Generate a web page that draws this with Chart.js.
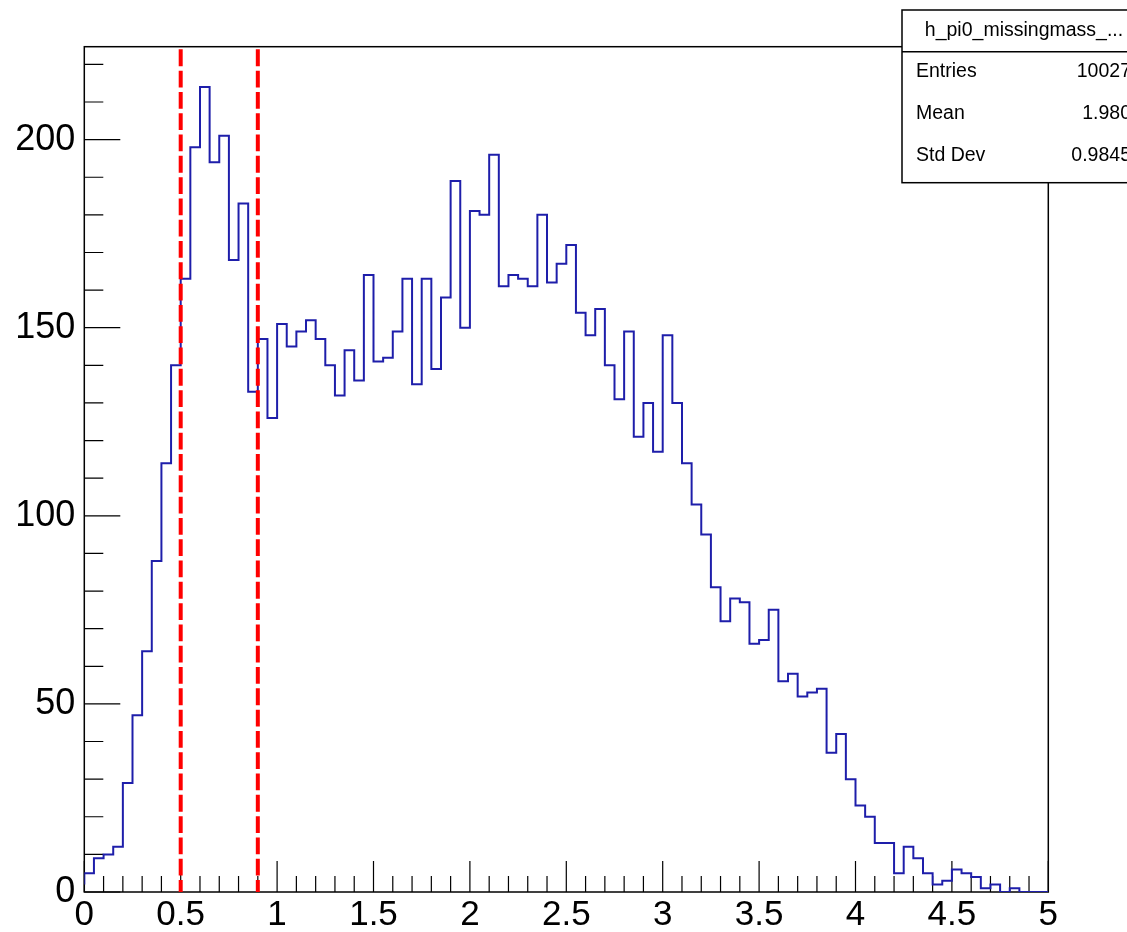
<!DOCTYPE html>
<html>
<head>
<meta charset="utf-8">
<script src="https://cdn.jsdelivr.net/npm/chart.js@4/dist/chart.umd.min.js"></script>
<style>
html,body{margin:0;padding:0;background:#fff;overflow:hidden}
#wrap{width:1127px;height:932px;position:relative}
canvas{display:block}
</style>
</head>
<body>
<div id="wrap"><canvas id="c" width="1127" height="932"></canvas></div>
<script>
// ---------------- data ----------------
const binLow = 0;
const binHigh = 5;
const binCounts = [
  2, 5, 9, 10, 12, 29, 47, 64, 88, 114,
  140, 163, 198, 214, 194, 201, 168, 183, 133, 147,
  126, 151, 145, 149, 152, 147, 140, 132, 144, 136,
  164, 141, 142, 149, 163, 135, 163, 139, 158, 189,
  150, 181, 180, 196, 161, 164, 163, 161, 180, 162,
  167, 172, 154, 148, 155, 140, 131, 149, 121, 130,
  117, 148, 130, 114, 103, 95, 81, 72, 78, 77,
  66, 67, 75, 56, 58, 52, 53, 54, 37, 42,
  30, 23, 20, 13, 13, 5, 12, 9, 5, 2,
  3, 6, 5, 4, 1, 2, 0, 1, 0, 0
];
const cutValues = [0.5, 0.9];
const cutLineTop = 224;
const xTickLabels = [0, 0.5, 1, 1.5, 2, 2.5, 3, 3.5, 4, 4.5, 5];
const yTickLabels = [0, 50, 100, 150, 200];
const yAxisMax = 224.7;
const xMinorStep = 0.1, xMajorStep = 0.5;
const yMinorStep = 10, yMajorStep = 50;
const statsTitle = "h_pi0_missingmass_...";
const statsNames = ["Entries", "Mean", "Std Dev"];
const statsValues = ["10027", "1.980", "0.9845"];

// ---------------- build datasets ----------------
const binWidth = (binHigh - binLow) / binCounts.length;
const histPoints = binCounts.map((v, i) => ({ x: binLow + i * binWidth, y: v }));
histPoints.push({ x: binHigh, y: binCounts[binCounts.length - 1] });
histPoints.push({ x: binHigh, y: 0 });

const datasets = [{
  data: histPoints,
  showLine: true,
  stepped: 'after',
  borderColor: '#1e1eaa',
  borderWidth: 2,
  pointRadius: 0,
  fill: false,
  order: 2
}];
cutValues.forEach(c => {
  datasets.push({
    data: [{ x: c, y: cutLineTop }, { x: c, y: 0 }],
    showLine: true,
    borderColor: '#ff0000',
    borderWidth: 4,
    borderDash: [16.8, 4.5],
    pointRadius: 0,
    fill: false,
    order: 1
  });
});

const FONT = "'Liberation Sans', Arial, Helvetica, sans-serif";

// frame and inward ticks (drawn beneath datasets)
const framePlugin = {
  id: 'frame',
  beforeDatasetsDraw(chart) {
    const { ctx, chartArea: a, scales } = chart;
    const xs = scales.x, ys = scales.y;
    ctx.save();
    ctx.strokeStyle = '#000';
    ctx.lineWidth = 1.2;
    ctx.beginPath();
    const nx = Math.round((binHigh - binLow) / xMinorStep);
    for (let k = 0; k <= nx; k++) {
      const v = binLow + k * xMinorStep;
      const r = v / xMajorStep;
      const major = Math.abs(r - Math.round(r)) < 1e-6;
      const px = xs.getPixelForValue(v);
      ctx.moveTo(px, a.bottom);
      ctx.lineTo(px, a.bottom - (major ? 31 : 16));
    }
    for (let v = 0; v <= yAxisMax; v += yMinorStep) {
      const major = v % yMajorStep === 0;
      const py = ys.getPixelForValue(v);
      ctx.moveTo(a.left, py);
      ctx.lineTo(a.left + (major ? 36 : 19), py);
    }
    ctx.stroke();
    ctx.lineWidth = 1.5;
    ctx.strokeRect(a.left, a.top, a.right - a.left, a.bottom - a.top);
    ctx.restore();
  },
  afterDraw(chart) {
    const ctx = chart.ctx;
    ctx.save();
    // stats box
    const bx = 902, by = 10, bw = 244, bh = 172.7, sep = 51.7;
    ctx.fillStyle = '#fff';
    ctx.fillRect(bx, by, bw, bh);
    ctx.strokeStyle = '#000';
    ctx.lineWidth = 1.5;
    ctx.strokeRect(bx, by, bw, bh);
    ctx.beginPath();
    ctx.moveTo(bx, sep);
    ctx.lineTo(bx + bw, sep);
    ctx.stroke();
    ctx.fillStyle = '#000';
    ctx.font = '19.5px ' + FONT;
    ctx.textBaseline = 'middle';
    ctx.textAlign = 'center';
    ctx.fillText(statsTitle, 1024, 31);
    const rowY = [72, 114, 156];
    statsNames.forEach((n, i) => {
      ctx.textAlign = 'left';
      ctx.fillText(n, 916, rowY[i]);
      ctx.textAlign = 'right';
      ctx.fillText(statsValues[i], 1131, rowY[i]);
    });
    ctx.restore();
  }
};

new Chart(document.getElementById('c'), {
  type: 'scatter',
  data: { datasets },
  options: {
    responsive: false,
    animation: false,
    devicePixelRatio: 1,
    layout: { padding: { left: 0, top: 46.7, right: 78.7, bottom: 0 } },
    plugins: { legend: { display: false }, tooltip: { enabled: false }, title: { display: false } },
    scales: {
      x: {
        type: 'linear',
        min: binLow,
        max: binHigh,
        afterBuildTicks: s => { s.ticks = xTickLabels.map(v => ({ value: v })); },
        afterFit: s => { s.height = 40; },
        grid: { display: false, drawTicks: false },
        border: { display: false },
        ticks: {
          autoSkip: false, maxRotation: 0, minRotation: 0,
          padding: 2,
          color: '#000',
          font: { family: FONT, size: 35 },
          callback: v => String(v)
        }
      },
      y: {
        type: 'linear',
        min: 0,
        max: yAxisMax,
        afterBuildTicks: s => { s.ticks = yTickLabels.map(v => ({ value: v })); },
        afterFit: s => { s.width = 84.3; },
        grid: { display: false, drawTicks: false },
        border: { display: false },
        ticks: {
          padding: 9,
          color: '#000',
          font: { family: FONT, size: 36 },
          callback: v => String(v)
        }
      }
    }
  },
  plugins: [framePlugin]
});
</script>
</body>
</html>
